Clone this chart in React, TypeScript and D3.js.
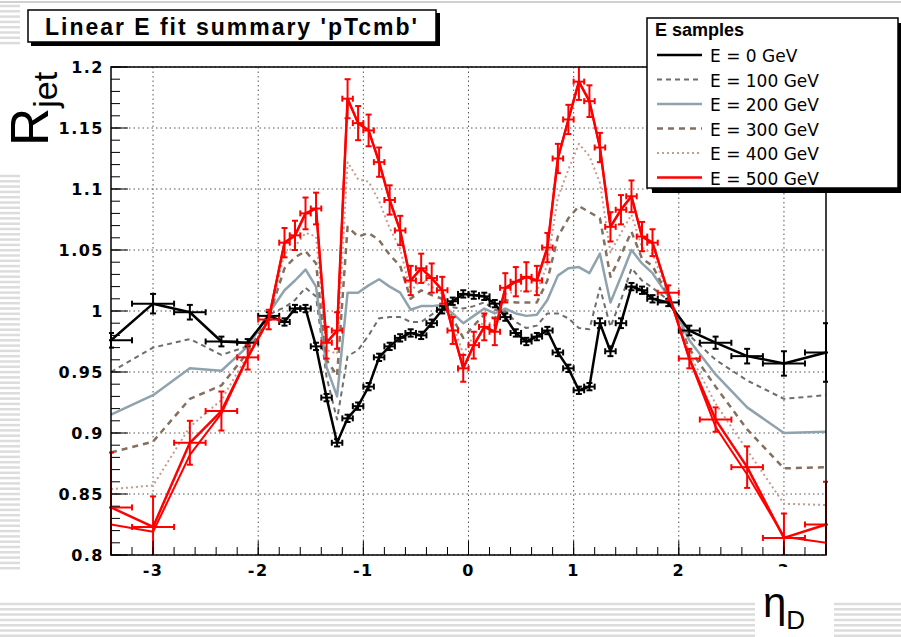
import React from 'react';
import * as d3 from 'd3';

// eta bin edges (variable width, outer bins reach past the axis range)
const binEdges = [
  -3.6, -3.2, -2.8, -2.5, -2.2, -2.0,
  -1.8, -1.7, -1.6, -1.5, -1.4, -1.3, -1.2, -1.1, -1.0, -0.9, -0.8, -0.7, -0.6, -0.5, -0.4, -0.3, -0.2, -0.1,
  0.0, 0.1, 0.2, 0.3, 0.4, 0.5, 0.6, 0.7, 0.8, 0.9, 1.0, 1.1, 1.2, 1.3, 1.4, 1.5, 1.6, 1.7, 1.8,
  2.0, 2.2, 2.5, 2.8, 3.2, 3.6,
];

// E = 0 GeV (data with errors)
const rjetE0 = [
  0.976, 1.006, 0.999, 0.975, 0.974, 0.996,
  0.991, 1.002, 1.002, 0.971, 0.929, 0.892, 0.912, 0.922, 0.938, 0.962, 0.971, 0.978, 0.982, 0.980, 0.990, 1.001, 1.008, 1.014,
  1.013, 1.012, 1.006, 0.995, 0.982, 0.975, 0.979, 0.984, 0.966, 0.953, 0.935, 0.938, 0.990, 0.967, 0.990, 1.020, 1.017, 1.010,
  1.007, 0.984, 0.974, 0.963, 0.957, 0.966,
];
const errE0 = [
  0.006, 0.008, 0.006, 0.004, 0.003, 0.003,
  0.003, 0.003, 0.003, 0.003, 0.003, 0.003, 0.003, 0.003, 0.003, 0.003, 0.003, 0.003, 0.003, 0.003, 0.003, 0.003, 0.003, 0.003,
  0.003, 0.003, 0.003, 0.003, 0.003, 0.003, 0.003, 0.003, 0.003, 0.003, 0.003, 0.003, 0.004, 0.004, 0.004, 0.003, 0.003, 0.003,
  0.003, 0.004, 0.005, 0.006, 0.010, 0.024,
];

const rjetE100 = [
  0.950, 0.970, 0.977, 0.964, 0.971, 0.997,
  1.003, 1.009, 1.019, 1.012, 0.946, 0.911, 0.963, 0.968, 0.980, 0.994, 0.995, 0.995, 0.991, 0.991, 0.997, 1.004, 1.003, 1.002,
  1.004, 1.007, 1.001, 1.000, 0.991, 0.986, 0.988, 0.998, 0.998, 0.994, 0.986, 0.985, 1.019, 0.987, 1.009, 1.035, 1.025, 1.019,
  1.009, 0.980, 0.960, 0.943, 0.928, 0.931,
];

const rjetE200 = [
  0.915, 0.931, 0.953, 0.951, 0.971, 0.998,
  1.017, 1.025, 1.034, 1.020, 0.954, 0.930, 1.015, 1.015, 1.021, 1.026, 1.020, 1.015, 1.001, 1.004, 1.004, 1.005, 0.998, 0.990,
  0.996, 1.002, 0.998, 1.002, 0.998, 0.996, 0.997, 1.009, 1.029, 1.035, 1.036, 1.031, 1.047, 1.007, 1.028, 1.050, 1.039, 1.031,
  1.012, 0.976, 0.948, 0.921, 0.900, 0.901,
];

const rjetE300 = [
  0.884, 0.893, 0.928, 0.939, 0.966, 0.995,
  1.035, 1.044, 1.049, 1.039, 0.960, 0.947, 1.069, 1.061, 1.064, 1.058, 1.046, 1.037, 1.010, 1.017, 1.013, 1.010, 0.994, 0.978,
  0.988, 0.997, 0.994, 1.009, 1.007, 1.007, 1.007, 1.025, 1.061, 1.076, 1.086, 1.081, 1.076, 1.028, 1.046, 1.065, 1.043, 1.037,
  1.012, 0.969, 0.938, 0.903, 0.871, 0.872,
];

const rjetE400 = [
  0.854, 0.857, 0.905, 0.927, 0.964, 0.994,
  1.047, 1.053, 1.064, 1.061, 0.968, 0.965, 1.122, 1.108, 1.106, 1.090, 1.068, 1.051, 1.016, 1.026, 1.020, 1.014, 0.989, 0.965,
  0.980, 0.992, 0.988, 1.014, 1.016, 1.017, 1.016, 1.038, 1.093, 1.116, 1.137, 1.127, 1.105, 1.048, 1.064, 1.079, 1.052, 1.047,
  1.014, 0.965, 0.924, 0.886, 0.842, 0.841,
];

// E = 500 GeV fit line
const fitE500 = [
  0.825, 0.819, 0.882, 0.916, 0.962, 0.994,
  1.056, 1.062, 1.080, 1.084, 0.974, 0.984, 1.174, 1.154, 1.148, 1.122, 1.091, 1.066, 1.025, 1.035, 1.027, 1.017, 0.984, 0.953,
  0.972, 0.987, 0.983, 1.019, 1.024, 1.028, 1.025, 1.052, 1.125, 1.157, 1.188, 1.172, 1.134, 1.069, 1.083, 1.094, 1.061, 1.056,
  1.015, 0.961, 0.905, 0.866, 0.815, 0.810,
];

// E = 500 GeV data with errors
const rjetE500 = [
  0.839, 0.823, 0.892, 0.918, 0.962, 0.993,
  1.056, 1.062, 1.080, 1.084, 0.974, 0.984, 1.174, 1.154, 1.148, 1.122, 1.091, 1.066, 1.025, 1.035, 1.027, 1.017, 0.984, 0.953,
  0.972, 0.987, 0.983, 1.019, 1.024, 1.028, 1.025, 1.052, 1.125, 1.157, 1.188, 1.172, 1.134, 1.069, 1.083, 1.094, 1.061, 1.056,
  1.015, 0.961, 0.911, 0.872, 0.814, 0.825,
];
const errE500 = [
  0.045, 0.025, 0.018, 0.016, 0.010, 0.008,
  0.012, 0.012, 0.013, 0.013, 0.013, 0.015, 0.016, 0.014, 0.013, 0.012, 0.012, 0.012, 0.012, 0.012, 0.012, 0.011, 0.011, 0.011,
  0.011, 0.011, 0.011, 0.012, 0.012, 0.012, 0.012, 0.012, 0.012, 0.012, 0.015, 0.013, 0.012, 0.012, 0.012, 0.013, 0.012, 0.011,
  0.006, 0.008, 0.010, 0.017, 0.020, 0.035,
];

const legendLabels = ['E = 0 GeV', 'E = 100 GeV', 'E = 200 GeV', 'E = 300 GeV', 'E = 400 GeV', 'E = 500 GeV'];

const W = 901, H = 637;
const M = { left: 111, right: 826, top: 67, bottom: 555 };

// line styles per sample
const styles = [
  { color: '#000000', width: 2.5, dash: undefined as string | undefined },
  { color: '#6e6e6e', width: 2, dash: '5,4' },
  { color: '#8fa3ae', width: 2.5, dash: undefined },
  { color: '#85705f', width: 2.5, dash: '6,5' },
  { color: '#c99a90', width: 2, dash: '2,3' },
  { color: '#ff0000', width: 2.5, dash: undefined },
];

const tickFont = '"DejaVu Sans", sans-serif';
const helv = '"Liberation Sans", Arial, sans-serif';

function ErrorPoints({ vals, errs, color, x, y, centers }: any) {
  return (
    <g stroke={color} strokeWidth={2} fill="none">
      {vals.map((v: number, i: number) => {
        const cx = x(centers[i]);
        const cy = y(v);
        const x0 = x(binEdges[i]);
        const x1 = x(binEdges[i + 1]);
        const y0 = y(v - errs[i]);
        const y1 = y(v + errs[i]);
        return (
          <g key={i}>
            <line x1={x0} x2={x1} y1={cy} y2={cy} />
            <line x1={x0} x2={x0} y1={cy - 3} y2={cy + 3} />
            <line x1={x1} x2={x1} y1={cy - 3} y2={cy + 3} />
            <line x1={cx} x2={cx} y1={y0} y2={y1} />
            <line x1={cx - 3} x2={cx + 3} y1={y0} y2={y0} />
            <line x1={cx - 3} x2={cx + 3} y1={y1} y2={y1} />
          </g>
        );
      })}
    </g>
  );
}

export default function App() {
  const x = d3.scaleLinear().domain([-3.4, 3.4]).range([M.left, M.right]);
  const y = d3.scaleLinear().domain([0.8, 1.2]).range([M.bottom, M.top]);
  const centers = binEdges.slice(0, -1).map((e, i) => (e + binEdges[i + 1]) / 2);

  const line = (vals: number[]) =>
    d3.line<number>().x((_, i) => x(centers[i])).y(d => y(d))(vals) as string;

  const xMajor = x.ticks(7);
  const xMinor = x.ticks(34);
  const yMajor = y.ticks(8);
  const yMinor = y.ticks(40);

  const series = [rjetE0, rjetE100, rjetE200, rjetE300, rjetE400];

  // background slide stripes
  const leftStripesTop = d3.range(6, 48, 5.3);
  const leftStripes = d3.range(176, 570, 5.3);
  const bottomStripes = d3.range(604, 637, 5.3);

  return (
    <div style={{ position: 'absolute', left: 0, top: 0 }}>
      <svg width={W} height={H} style={{ display: 'block', background: '#fff' }}>
        <defs>
          <clipPath id="plotClip">
            <rect x={M.left - 2} y={M.top} width={M.right - M.left + 4} height={M.bottom - M.top} />
          </clipPath>
        </defs>

        {/* slide background */}
        <line x1={0} x2={W} y1={2} y2={2} stroke="#d0d0d0" strokeWidth={2} />
        {leftStripesTop.map((s, i) => (
          <line key={'lt' + i} x1={0} x2={20} y1={s} y2={s} stroke="#dcdcdc" strokeWidth={2.5} />
        ))}
        {leftStripes.map((s, i) => (
          <line key={'ls' + i} x1={0} x2={20} y1={s} y2={s} stroke="#dcdcdc" strokeWidth={2.5} />
        ))}
        {bottomStripes.map((s, i) => (
          <line key={'bs' + i} x1={0} x2={W} y1={s} y2={s} stroke="#dcdcdc" strokeWidth={2.5} />
        ))}

        {/* grid */}
        <g stroke="#555" strokeWidth={1} strokeDasharray="1.5,3">
          {xMajor.map(t => (
            <line key={'gx' + t} x1={x(t)} x2={x(t)} y1={M.top} y2={M.bottom} />
          ))}
          {yMajor.map(t => (
            <line key={'gy' + t} x1={M.left} x2={M.right} y1={y(t)} y2={y(t)} />
          ))}
        </g>

        {/* curves */}
        <g clipPath="url(#plotClip)" fill="none">
          {[1, 2, 3, 4].map(k => (
            <path
              key={'s' + k}
              d={line(series[k])}
              stroke={styles[k].color}
              strokeWidth={styles[k].width}
              strokeDasharray={styles[k].dash}
              strokeLinejoin="round"
            />
          ))}
          <path d={line(rjetE0)} stroke="#000" strokeWidth={2.5} strokeLinejoin="round" />
          <ErrorPoints vals={rjetE0} errs={errE0} color="#000" x={x} y={y} centers={centers} />
          <path d={line(fitE500)} stroke="#ff0000" strokeWidth={2} strokeLinejoin="round" />
          <path d={line(rjetE500)} stroke="#ff0000" strokeWidth={2.5} strokeLinejoin="round" />
          <ErrorPoints vals={rjetE500} errs={errE500} color="#ff0000" x={x} y={y} centers={centers} />
        </g>

        {/* frame and ticks */}
        <rect x={M.left} y={M.top} width={M.right - M.left} height={M.bottom - M.top} fill="none" stroke="#000" strokeWidth={1.5} />
        <g stroke="#000" strokeWidth={1}>
          {xMinor.map(t => (
            <line key={'xm' + t} x1={x(t)} x2={x(t)} y1={M.bottom} y2={M.bottom - 8} />
          ))}
          {xMajor.map(t => (
            <line key={'xM' + t} x1={x(t)} x2={x(t)} y1={M.bottom} y2={M.bottom - 14} />
          ))}
          {yMinor.map(t => (
            <line key={'ym' + t} x1={M.left} x2={M.left + 9} y1={y(t)} y2={y(t)} />
          ))}
          {yMajor.map(t => (
            <line key={'yM' + t} x1={M.left} x2={M.left + 17} y1={y(t)} y2={y(t)} />
          ))}
        </g>

        {/* tick labels */}
        <g fontFamily={tickFont} fontWeight="bold" fontSize={16} fill="#000" letterSpacing={1.5}>
          {yMajor.map(t => (
            <text key={'yl' + t} x={M.left - 7} y={y(t) + 6} textAnchor="end">
              {d3.format('')(+t.toFixed(2))}
            </text>
          ))}
          {xMajor.map(t => (
            <text key={'xl' + t} x={x(t)} y={M.bottom + 21} textAnchor="middle">
              {t}
            </text>
          ))}
        </g>

        {/* white patch under the x title */}
        <rect x={755} y={567} width={79} height={70} fill="#fff" />

        {/* axis titles */}
        <text transform="translate(48,146) rotate(-90)" fontFamily={helv} fontSize={53} fill="#000">
          R
          <tspan fontSize={34} dy={9}>jet</tspan>
        </text>
        <text x={763} y={617} fontFamily={helv} fontSize={42} fill="#000">
          η
          <tspan fontSize={26} dy={12}>D</tspan>
        </text>

        {/* title box */}
        <rect x={31} y={13} width={409} height={33} fill="#000" />
        <rect x={28} y={10} width={408} height={32} fill="#fff" stroke="#000" strokeWidth={1.5} />
        <text x={45} y={35} fontFamily={helv} fontWeight="bold" fontSize={23} textLength={372} lengthAdjust="spacing" fill="#000">
          Linear E fit summary 'pTcmb'
        </text>

        {/* legend */}
        <rect x={652} y={23} width={252} height={170} fill="#000" />
        <rect x={647} y={18} width={251} height={170} fill="#fff" stroke="#000" strokeWidth={1.5} />
        <text x={655} y={36} fontFamily={helv} fontWeight="bold" fontSize={18} fill="#000">
          E samples
        </text>
        {legendLabels.map((lab, i) => {
          const ry = 55 + i * 24.5;
          return (
            <g key={lab}>
              <line
                x1={657}
                x2={702}
                y1={ry}
                y2={ry}
                stroke={styles[i].color}
                strokeWidth={styles[i].width}
                strokeDasharray={styles[i].dash}
              />
              <text x={710} y={ry + 7} fontFamily={tickFont} fontSize={17} fill="#000">
                {lab}
              </text>
            </g>
          );
        })}
      </svg>
    </div>
  );
}
